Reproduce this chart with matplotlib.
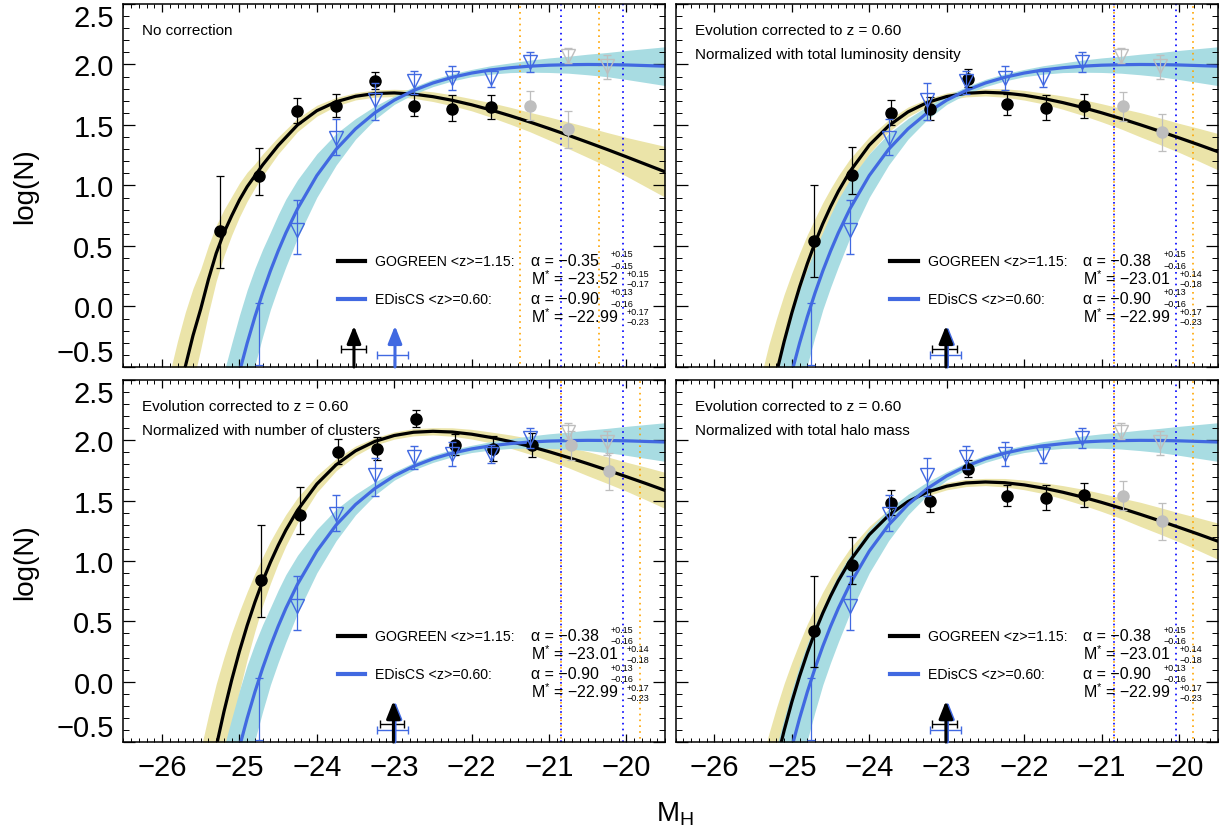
import numpy as np
import matplotlib.pyplot as plt
from matplotlib.ticker import MultipleLocator

plt.rcParams['font.family'] = ['Liberation Sans', 'DejaVu Sans']
plt.rcParams['mathtext.fontset'] = 'custom'
plt.rcParams['mathtext.rm'] = 'Liberation Sans'
plt.rcParams['mathtext.it'] = 'Liberation Sans:italic'
plt.rcParams['mathtext.bf'] = 'Liberation Sans:bold'

YELLOW = '#EBE4A9'
CYAN = '#A8DCE2'
BLUE = '#4169E1'
GRAY = '#BEBEBE'

# --- EDisCS points (same in all four panels) ---
ed_x = [-24.75, -24.25, -23.75, -23.25, -22.75, -22.25, -21.75, -21.25, -20.75, -20.25]
ed_y = [-0.48, 0.63, 1.39, 1.71, 1.86, 1.89, 1.89, 2.02, 2.07, 1.99]
ed_up = [0.51, 0.25, 0.16, 0.14, 0.09, 0.10, 0.07, 0.08, 0.07, 0.09]
ed_dn = [0.0, 0.20, 0.14, 0.17, 0.10, 0.10, 0.08, 0.08, 0.06, 0.11]

# --- GOGREEN points ---
gg_x_raw = [-25.25, -24.75, -24.25, -23.75, -23.25, -22.75, -22.25, -21.75, -21.25, -20.75]
gg_x_corr = [-24.72, -24.22, -23.72, -23.22, -22.72, -22.22, -21.72, -21.22, -20.72, -20.22]
gg_y_tl = [0.62, 1.08, 1.615, 1.66, 1.86, 1.66, 1.635, 1.65, 1.66, 1.465]
gg_y_tr = [0.54, 1.09, 1.60, 1.63, 1.88, 1.67, 1.64, 1.655, 1.655, 1.44]
gg_y_bl = [0.84, 1.385, 1.90, 1.925, 2.175, 1.96, 1.93, 1.96, 1.96, 1.745]
gg_y_br = [0.42, 0.97, 1.48, 1.50, 1.76, 1.54, 1.52, 1.545, 1.54, 1.33]
gg_up = [0.46, 0.23, 0.11, 0.10, 0.08, 0.09, 0.11, 0.10, 0.12, 0.15]
gg_dn = [0.30, 0.16, 0.10, 0.09, 0.065, 0.085, 0.10, 0.10, 0.12, 0.155]

# --- fitted curves ---
fit_x_tl = [-25.9, -25.8, -25.7, -25.6, -25.5, -25.4, -25.3, -25.2, -25.1, -25.0,
            -24.9, -24.8, -24.7, -24.6, -24.5, -24.25, -24.0, -23.75, -23.5, -23.25,
            -23.0, -22.75, -22.5, -22.25, -22.0, -21.75, -21.5, -21.25, -21.0, -20.75,
            -20.5, -20.25, -20.0, -19.75, -19.5]
fit_y_tl = [-1.10, -0.784, -0.498, -0.240, -0.02, 0.225, 0.44, 0.61, 0.75, 0.88,
            0.99, 1.08, 1.17, 1.25, 1.33, 1.50, 1.618, 1.692, 1.737, 1.760,
            1.765, 1.755, 1.734, 1.704, 1.667, 1.624, 1.576, 1.525, 1.471, 1.415,
            1.357, 1.298, 1.237, 1.175, 1.113]
fit_w_tl = [0.55, 0.50, 0.45, 0.39, 0.33, 0.28, 0.23, 0.19, 0.16, 0.14,
            0.12, 0.10, 0.09, 0.08, 0.07, 0.055, 0.045, 0.035, 0.03, 0.03,
            0.03, 0.035, 0.04, 0.045, 0.05, 0.06, 0.07, 0.08, 0.095, 0.11,
            0.125, 0.14, 0.16, 0.185, 0.21]

# evolution-corrected GOGREEN curve, relative to its peak
fit_x_c = [-25.7, -25.6, -25.5, -25.4, -25.3, -25.2, -25.1, -25.0, -24.9, -24.8,
           -24.7, -24.6, -24.5, -24.4, -24.25, -24.0, -23.75, -23.5, -23.25, -23.0,
           -22.75, -22.5, -22.25, -22.0, -21.75, -21.5, -21.25, -21.0, -20.75, -20.5,
           -20.25, -20.0, -19.75, -19.5]
fit_rel_c = [-4.108, -3.677, -3.287, -2.933, -2.613, -2.323, -2.061, -1.823, -1.609, -1.416,
             -1.242, -1.086, -0.946, -0.819, -0.655, -0.437, -0.277, -0.162, -0.084, -0.035,
             -0.008, 0.000, -0.006, -0.024, -0.051, -0.085, -0.124, -0.169, -0.217, -0.268,
             -0.321, -0.376, -0.432, -0.490]
fit_w_c = [0.78, 0.72, 0.65, 0.58, 0.52, 0.45, 0.39, 0.33, 0.28, 0.24,
           0.20, 0.175, 0.15, 0.13, 0.105, 0.07, 0.05, 0.04, 0.03, 0.03,
           0.03, 0.03, 0.035, 0.04, 0.045, 0.055, 0.065, 0.075, 0.085, 0.10,
           0.11, 0.12, 0.135, 0.15]
peak_tr, peak_bl, peak_br = 1.77, 2.075, 1.655

ed_fit_x = [-25.3, -25.2, -25.1, -25.0, -24.9, -24.8, -24.7, -24.6, -24.5, -24.4,
            -24.25, -24.0, -23.75, -23.5, -23.25, -23.0, -22.75, -22.5, -22.25, -22.0,
            -21.75, -21.5, -21.25, -21.0, -20.75, -20.5, -20.25, -20.0, -19.75, -19.5]
ed_fit_y = [-1.411, -1.094, -0.805, -0.543, -0.303, -0.085, 0.113, 0.294, 0.458, 0.608,
            0.807, 1.082, 1.299, 1.468, 1.601, 1.705, 1.785, 1.847, 1.894, 1.929,
            1.955, 1.973, 1.986, 1.994, 1.998, 2.000, 1.999, 1.996, 1.991, 1.986]
ed_fit_w = [0.61, 0.55, 0.50, 0.47, 0.44, 0.40, 0.36, 0.32, 0.30, 0.28,
            0.24, 0.18, 0.13, 0.085, 0.055, 0.035, 0.03, 0.03, 0.03, 0.03,
            0.035, 0.04, 0.05, 0.06, 0.07, 0.085, 0.10, 0.12, 0.14, 0.16]

# fit parameters shown in the panels
gg_par_raw = ['α = −0.35', '+0.15', '−0.15', 'M$^{*}$ = −23.52', '+0.15', '−0.17']
gg_par_corr = ['α = −0.38', '+0.15', '−0.16', 'M$^{*}$ = −23.01', '+0.14', '−0.18']
ed_par = ['α = −0.90', '+0.13', '−0.16', 'M$^{*}$ = −22.99', '+0.17', '−0.23']
gg_mstar_raw = (-23.52, 0.17, 0.15)
gg_mstar_corr = (-23.01, 0.18, 0.14)
ed_mstar = (-22.99, 0.23, 0.17)

# magnitude limits (dotted lines)
orange_raw = [-21.37, -20.35]
orange_corr = [-20.84, -19.82]
blue_lim = [-20.84, -20.04]

y_ticks = [-0.5, 0.0, 0.5, 1.0, 1.5, 2.0, 2.5]
y_labels = ['−0.5', '0.0', '0.5', '1.0', '1.5', '2.0', '2.5']
x_ticks = [-26, -25, -24, -23, -22, -21, -20]
x_labels = ['−26', '−25', '−24', '−23', '−22', '−21', '−20']


def mstar_arrow(ax, mstar, ybar, color):
    x, lo, hi = mstar
    ax.annotate('', xy=(x, -0.16), xytext=(x, -0.5),
                arrowprops=dict(arrowstyle='-|>,head_length=0.75,head_width=0.3',
                                mutation_scale=14, lw=2.2, color=color,
                                shrinkA=0, shrinkB=0))
    ax.errorbar([x], [ybar], xerr=[[lo], [hi]], fmt='none', ecolor=color,
                elinewidth=1.0, capsize=3, capthick=1.0)


def param_block(ax, y, par):
    ax.text(0.752, y, par[0], transform=ax.transAxes, fontsize=11.5, va='center')
    ax.text(0.900, y + 0.019, par[1], transform=ax.transAxes, fontsize=6.5, va='center')
    ax.text(0.900, y - 0.013, par[2], transform=ax.transAxes, fontsize=6.5, va='center')
    y2 = y - 0.047
    ax.text(0.752, y2, par[3], transform=ax.transAxes, fontsize=11.5, va='center')
    ax.text(0.929, y2 + 0.011, par[4], transform=ax.transAxes, fontsize=6.5, va='center')
    ax.text(0.929, y2 - 0.017, par[5], transform=ax.transAxes, fontsize=6.5, va='center')


def draw_panel(ax, gx, gy, cx, cy, cw, notes, gg_par, gg_mstar, orange, bottom, left):
    cx = np.array(cx)
    cy = np.array(cy)
    cw = np.array(cw)
    ex = np.array(ed_fit_x)
    ey = np.array(ed_fit_y)
    ew = np.array(ed_fit_w)

    ax.fill_between(cx, cy - cw, cy + cw, color=YELLOW, lw=0, zorder=1)
    ax.fill_between(ex, ey - ew, ey + ew, color=CYAN, lw=0, zorder=1.1)

    for xv in orange:
        ax.axvline(xv, color='#FFA500', lw=1.2, ls=(1.5, (1, 2.5)), zorder=1.5)
    for xv in blue_lim:
        ax.axvline(xv, color='#0000FF', lw=1.2, ls=(0, (1, 2.5)), zorder=1.5)

    ax.plot(cx, cy, color='black', lw=2.3, zorder=2)
    ax.plot(ex, ey, color=BLUE, lw=2.3, zorder=2.1)

    # GOGREEN points
    ax.errorbar(gx[:8], gy[:8], yerr=[gg_dn[:8], gg_up[:8]], fmt='o', color='black',
                ms=8, capsize=3, elinewidth=0.9, capthick=0.9, zorder=3)
    ax.errorbar(gx[8:], gy[8:], yerr=[gg_dn[8:], gg_up[8:]], fmt='o', color=GRAY,
                ms=8, capsize=3, elinewidth=0.9, capthick=0.9, zorder=3)

    # EDisCS points
    ax.errorbar(ed_x[:1], ed_y[:1], yerr=[ed_dn[:1], ed_up[:1]], fmt='none', ecolor=BLUE,
                capsize=3, elinewidth=0.9, capthick=0.9, zorder=3.5)
    ax.errorbar(ed_x[1:8], ed_y[1:8], yerr=[ed_dn[1:8], ed_up[1:8]], fmt='v', mfc='none',
                mec=BLUE, ecolor=BLUE, ms=9.5, mew=1.0, capsize=3, elinewidth=0.9,
                capthick=0.9, zorder=3.5)
    ax.errorbar(ed_x[8:], ed_y[8:], yerr=[ed_dn[8:], ed_up[8:]], fmt='v', mfc='none',
                mec=GRAY, ecolor=GRAY, ms=9.5, mew=1.0, capsize=3, elinewidth=0.9,
                capthick=0.9, zorder=3.5)

    # characteristic magnitude arrows
    mstar_arrow(ax, ed_mstar, -0.40, BLUE)
    mstar_arrow(ax, gg_mstar, -0.35, 'black')

    # notes
    for i, t in enumerate(notes):
        ax.text(0.035, 0.929 - 0.066 * i, t, transform=ax.transAxes, fontsize=11, va='center')

    # legend block
    ax.plot([0.396, 0.447], [0.293, 0.293], color='black', lw=3, transform=ax.transAxes)
    ax.text(0.465, 0.293, 'GOGREEN <z>=1.15:', transform=ax.transAxes, fontsize=10.2, va='center')
    param_block(ax, 0.293, gg_par)
    ax.plot([0.396, 0.447], [0.188, 0.188], color=BLUE, lw=3, transform=ax.transAxes)
    ax.text(0.465, 0.188, 'EDisCS <z>=0.60:', transform=ax.transAxes, fontsize=10.2, va='center')
    param_block(ax, 0.188, ed_par)

    ax.set_xlim(-26.5, -19.5)
    ax.set_ylim(-0.5, 2.5)
    ax.set_xticks(x_ticks, labels=x_labels)
    ax.set_yticks(y_ticks, labels=y_labels)
    ax.xaxis.set_minor_locator(MultipleLocator(0.1))
    ax.yaxis.set_minor_locator(MultipleLocator(0.1))
    ax.tick_params(axis='x', which='major', direction='in', top=True, bottom=True,
                   length=5.5, width=0.9, labelsize=21, pad=8, labelbottom=bottom)
    ax.tick_params(axis='x', which='minor', direction='in', top=True, bottom=True,
                   length=2.6, width=0.7)
    ax.tick_params(axis='y', which='major', direction='in', left=True, right=True,
                   length=8.5, width=0.9, labelsize=21, pad=7, labelleft=left)
    ax.tick_params(axis='y', which='minor', direction='in', left=True, right=True,
                   length=4.3, width=0.7)
    for s in ax.spines.values():
        s.set_linewidth(1.1)
    if left:
        labs = ax.get_yticklabels()
        labs[0].set_verticalalignment('bottom')
        labs[-1].set_verticalalignment('top')


fig = plt.figure(figsize=(12.25, 8.29), dpi=100)
ax_tl = fig.add_axes([0.1007, 0.5561, 0.4422, 0.4379])
ax_tr = fig.add_axes([0.5516, 0.5561, 0.4424, 0.4379])
ax_bl = fig.add_axes([0.1007, 0.1037, 0.4422, 0.4367])
ax_br = fig.add_axes([0.5516, 0.1037, 0.4424, 0.4367])

fc = np.array(fit_rel_c)

draw_panel(ax_tl, gg_x_raw, gg_y_tl, fit_x_tl, fit_y_tl, fit_w_tl,
           ['No correction'], gg_par_raw, gg_mstar_raw, orange_raw, False, True)
draw_panel(ax_tr, gg_x_corr, gg_y_tr, fit_x_c, fc + peak_tr, fit_w_c,
           ['Evolution corrected to z = 0.60', 'Normalized with total luminosity density'],
           gg_par_corr, gg_mstar_corr, orange_corr, False, False)
draw_panel(ax_bl, gg_x_corr, gg_y_bl, fit_x_c, fc + peak_bl, fit_w_c,
           ['Evolution corrected to z = 0.60', 'Normalized with number of clusters'],
           gg_par_corr, gg_mstar_corr, orange_corr, True, True)
draw_panel(ax_br, gg_x_corr, gg_y_br, fit_x_c, fc + peak_br, fit_w_c,
           ['Evolution corrected to z = 0.60', 'Normalized with total halo mass'],
           gg_par_corr, gg_mstar_corr, orange_corr, True, False)

fig.text(0.0204, 0.775, 'log(N)', rotation=90, fontsize=20, ha='center', va='center')
fig.text(0.0204, 0.322, 'log(N)', rotation=90, fontsize=20, ha='center', va='center')
fig.text(0.551, 0.009, 'M$_\\mathrm{H}$', fontsize=20, ha='center', va='baseline')

fig.savefig('out.png', dpi=100)
